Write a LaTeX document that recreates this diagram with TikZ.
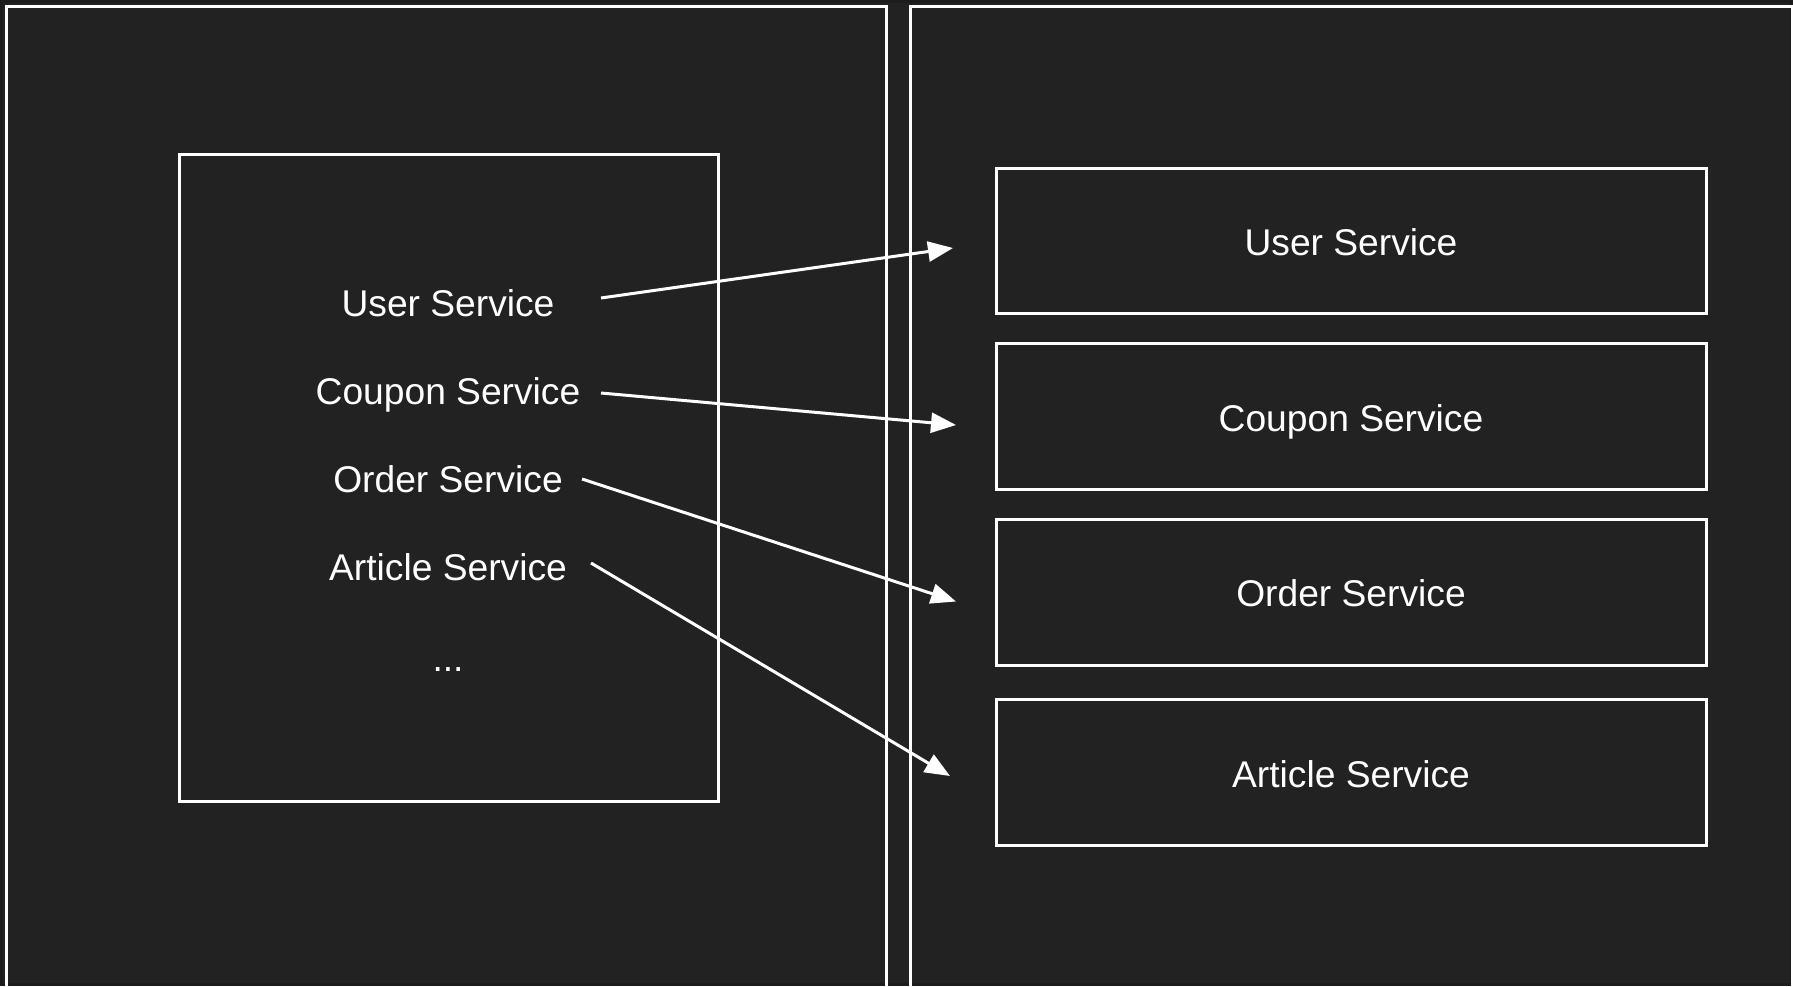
\documentclass[tikz,border=0pt]{standalone}
\usepackage{fontspec}
\setmainfont{Liberation Sans}
\usetikzlibrary{arrows.meta}
\definecolor{bgdark}{HTML}{222222}
\definecolor{bgedge}{HTML}{1C1C1C}
\tikzset{
  frame/.style={draw=white, line width=1.5pt},
  svc/.style={text=white, font=\fontsize{18.6pt}{22pt}\selectfont, inner sep=0pt,
    text height=0.716em, text depth=0pt, anchor=center},
  link/.style={draw=white, line width=1.5pt, -{Triangle[length=12.5pt,width=10pt]}}
}
\begin{document}
\begin{tikzpicture}[x=0.5pt,y=-0.5pt]
  % canvas
  \fill[bgedge] (0,0) rectangle (1793,986);
  \fill[bgdark] (3,3) rectangle (1790,983);
  \useasboundingbox (0,0) rectangle (1793,986);

  % two outer panels
  \draw[frame] (6,6) rectangle (886,988);
  \draw[frame] (910,6) rectangle (1792,988);

  % left inner box with the service list
  \draw[frame] (179,154) rectangle (718,801);
  \node[svc] (lu) at (448,309) {User Service};
  \node[svc] (lc) at (448,397) {Coupon Service};
  \node[svc] (lo) at (448,485) {Order Service};
  \node[svc] (la) at (448,573) {Article Service};
  \node[svc, anchor=base] (ld) at (448,671) {...};

  % right column of separate services
  \node[frame, minimum width=710pt*0.5, minimum height=145pt*0.5, inner sep=0pt] (ru) at (1351,240.5) {};
  \node[frame, minimum width=710pt*0.5, minimum height=146pt*0.5, inner sep=0pt] (rc) at (1351,416) {};
  \node[frame, minimum width=710pt*0.5, minimum height=146pt*0.5, inner sep=0pt] (ro) at (1351,592) {};
  \node[frame, minimum width=710pt*0.5, minimum height=146pt*0.5, inner sep=0pt] (ra) at (1351,772) {};
  \node[svc] (tu) at (1351,248.5) {User Service};
  \node[svc] (tc) at (1351,424.5) {Coupon Service};
  \node[svc] (to) at (1351,599.5) {Order Service};
  \node[svc] (ta) at (1351,780) {Article Service};

  % arrow end points
  \coordinate (su) at (601,298);
  \coordinate (sc) at (601,393);
  \coordinate (so) at (582,479);
  \coordinate (sa) at (591,563);
  \coordinate (eu) at (953,248);
  \coordinate (ec) at (956,425);
  \coordinate (eo) at (956,601.5);
  \coordinate (ea) at (950,776);

  \draw[link] (su) -- (eu);
  \draw[link] (sc) -- (ec);
  \draw[link] (so) -- (eo);
  \draw[link] (sa) -- (ea);
\end{tikzpicture}
\end{document}
